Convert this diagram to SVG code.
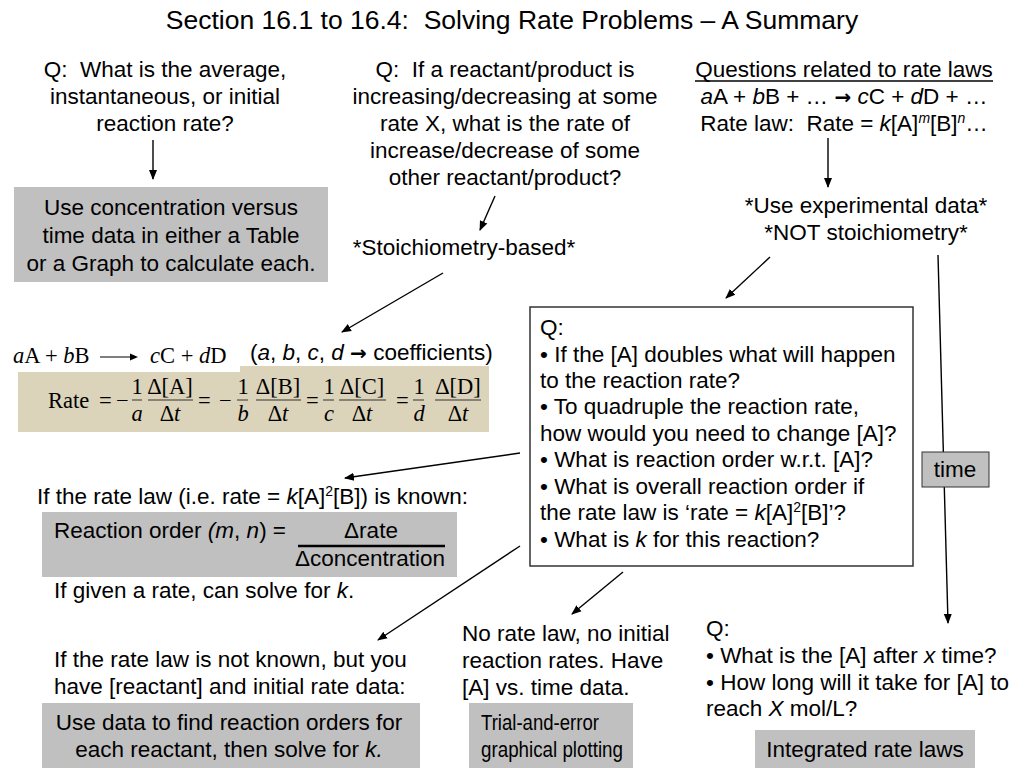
<svg xmlns="http://www.w3.org/2000/svg" width="1024" height="768" viewBox="0 0 1024 768">
<defs>
<marker id="ah" viewBox="0 0 10 10" refX="9" refY="5" markerWidth="10" markerHeight="10" markerUnits="userSpaceOnUse" orient="auto">
<path d="M0,1 L10,5 L0,9 z" fill="#000"/>
</marker>
</defs>
<style>
text{font-family:"Liberation Sans",Arial,sans-serif;font-size:22.5px;fill:#000}
.c{text-anchor:middle}
.t{font-size:26.5px}
.box{fill:#c0c0c0}
.ser{font-family:"Liberation Serif","Times New Roman",serif;font-size:22.5px}
.ar{font-family:"DejaVu Sans",sans-serif;font-size:20px;font-weight:bold}
.conn line{stroke:#000;stroke-width:1.4;marker-end:url(#ah)}
.sup{font-size:14px}
.fb{stroke:#333;stroke-width:1}
</style>
<rect width="1024" height="768" fill="#fff"/>
<text id="title" class="c t" x="512" y="29" xml:space="preserve">Section 16.1 to 16.4:  Solving Rate Problems – A Summary</text>

<g id="q-avg">
<text class="c" x="165" y="77" xml:space="preserve">Q:  What is the average,</text>
<text class="c" x="165" y="104">instantaneous, or initial</text>
<text class="c" x="165" y="131">reaction rate?</text>
</g>
<g id="conc-time">
<rect class="box" x="14" y="187" width="314" height="95"/>
<text class="c" x="171" y="215">Use concentration versus</text>
<text class="c" x="171" y="243">time data in either a Table</text>
<text class="c" x="171" y="271">or a Graph to calculate each.</text>
</g>

<g id="q-stoich">
<text class="c" x="505" y="77" xml:space="preserve">Q:  If a reactant/product is</text>
<text class="c" x="505" y="104">increasing/decreasing at some</text>
<text class="c" x="505" y="131">rate X, what is the rate of</text>
<text class="c" x="505" y="158">increase/decrease of some</text>
<text class="c" x="505" y="185">other reactant/product?</text>
</g>
<g id="stoich">
<text class="c" x="464" y="255">*Stoichiometry-based*</text>
</g>

<g id="rate-laws">
<text class="c" x="844" y="77">Questions related to rate laws</text>
<line x1="695" y1="81" x2="993" y2="81" stroke="#000" stroke-width="1.3"/>
<text class="c" x="844" y="104"><tspan font-style="italic">a</tspan>A + <tspan font-style="italic">b</tspan>B + … <tspan class="ar">→</tspan> <tspan font-style="italic">c</tspan>C + <tspan font-style="italic">d</tspan>D + …</text>
<text class="c" x="844" y="131" xml:space="preserve">Rate law:  Rate = <tspan font-style="italic">k</tspan>[A]<tspan class="sup" font-style="italic" dy="-8">m</tspan><tspan dy="8">[B]</tspan><tspan class="sup" font-style="italic" dy="-8">n</tspan><tspan dy="8">…</tspan></text>
</g>
<g id="experimental">
<text class="c" x="866" y="213">*Use experimental data*</text>
<text class="c" x="866" y="240">*NOT stoichiometry*</text>
</g>

<g id="equation">
<text class="ser" x="13" y="363"><tspan font-style="italic">a</tspan>A + <tspan font-style="italic">b</tspan>B</text>
<line x1="100" y1="357" x2="136" y2="357" stroke="#000" stroke-width="1.2"/>
<path d="M130,353.5 L138,357 L130,360.5 z" fill="#000"/>
<text class="ser" x="150" y="363"><tspan font-style="italic">c</tspan>C + <tspan font-style="italic">d</tspan>D</text>
<rect x="18" y="372" width="222" height="60" fill="#dbd3ba"/>
<rect x="240" y="366" width="249" height="66" fill="#dbd3ba"/>
<text class="ser" x="48" y="408" font-size="23.5">Rate</text>
<text class="ser" x="99" y="408">=</text>
<text class="ser" x="116" y="408">−</text>
<text class="ser c" x="137" y="394">1</text>
<line class="fb" x1="132" y1="400" x2="142" y2="400"/>
<text class="ser c" x="137" y="421" font-style="italic">a</text>
<text class="ser c" x="170" y="394">Δ[A]</text>
<line class="fb" x1="148" y1="400" x2="193" y2="400"/>
<text class="ser c" x="170" y="421">Δ<tspan font-style="italic">t</tspan></text>
<text class="ser" x="198" y="408">=</text>
<text class="ser" x="219" y="408">−</text>
<text class="ser c" x="243" y="394">1</text>
<line class="fb" x1="237" y1="400" x2="248" y2="400"/>
<text class="ser c" x="243" y="421" font-style="italic">b</text>
<text class="ser c" x="278" y="394">Δ[B]</text>
<line class="fb" x1="256" y1="400" x2="301" y2="400"/>
<text class="ser c" x="278" y="421">Δ<tspan font-style="italic">t</tspan></text>
<text class="ser" x="306" y="408">=</text>
<text class="ser c" x="329" y="394">1</text>
<line class="fb" x1="323" y1="400" x2="334" y2="400"/>
<text class="ser c" x="329" y="421" font-style="italic">c</text>
<text class="ser c" x="362" y="394">Δ[C]</text>
<line class="fb" x1="339" y1="400" x2="386" y2="400"/>
<text class="ser c" x="362" y="421">Δ<tspan font-style="italic">t</tspan></text>
<text class="ser" x="396" y="408">=</text>
<text class="ser c" x="419" y="394">1</text>
<line class="fb" x1="413" y1="400" x2="424" y2="400"/>
<text class="ser c" x="419" y="421" font-style="italic">d</text>
<text class="ser c" x="458" y="394">Δ[D]</text>
<line class="fb" x1="435" y1="400" x2="481" y2="400"/>
<text class="ser c" x="458" y="421">Δ<tspan font-style="italic">t</tspan></text>
<text x="250" y="360">(<tspan font-style="italic">a</tspan>, <tspan font-style="italic">b</tspan>, <tspan font-style="italic">c</tspan>, <tspan font-style="italic">d</tspan> <tspan class="ar">→</tspan> coefficients)</text>
</g>

<g id="q-box">
<rect x="530" y="307" width="383" height="259" fill="#fff" stroke="#333" stroke-width="1.5"/>
<text x="540" y="335">Q:</text>
<text x="540" y="362">• If the [A] doubles what will happen</text>
<text x="540" y="388">to the reaction rate?</text>
<text x="540" y="414">• To quadruple the reaction rate,</text>
<text x="540" y="441">how would you need to change [A]?</text>
<text x="540" y="467">• What is reaction order w.r.t. [A]?</text>
<text x="540" y="494">• What is overall reaction order if</text>
<text x="540" y="520">the rate law is ‘rate = <tspan font-style="italic">k</tspan>[A]<tspan class="sup" dy="-8">2</tspan><tspan dy="8">[B]’?</tspan></text>
<text x="540" y="547">• What is <tspan font-style="italic">k</tspan> for this reaction?</text>
</g>

<g id="known">
<text x="37" y="504">If the rate law (i.e. rate = <tspan font-style="italic">k</tspan>[A]<tspan class="sup" dy="-8">2</tspan><tspan dy="8">[B]) is known:</tspan></text>
<rect class="box" x="42" y="512" width="415" height="65"/>
<text x="54" y="538">Reaction order <tspan font-style="italic">(m</tspan>, <tspan font-style="italic">n</tspan>) =</text>
<text class="c" x="371" y="538">Δrate</text>
<line x1="298" y1="546" x2="445" y2="546" stroke="#000" stroke-width="2.5"/>
<text class="c" x="370" y="566">Δconcentration</text>
<text x="54" y="598">If given a rate, can solve for <tspan font-style="italic">k</tspan>.</text>
</g>

<g id="not-known">
<text x="54" y="667">If the rate law is not known, but you</text>
<text x="54" y="694">have [reactant] and initial rate data:</text>
<rect class="box" x="42" y="703" width="378" height="65"/>
<text class="c" x="229" y="730">Use data to find reaction orders for</text>
<text class="c" x="229" y="757">each reactant, then solve for <tspan font-style="italic">k.</tspan></text>
</g>

<g id="no-rate-law">
<text x="462" y="641">No rate law, no initial</text>
<text x="462" y="668">reaction rates. Have</text>
<text x="462" y="695">[A] vs. time data.</text>
<rect class="box" x="469" y="703" width="164" height="65"/>
<text x="481" y="730" textLength="118" lengthAdjust="spacingAndGlyphs">Trial-and-error</text>
<text x="481" y="757" textLength="142" lengthAdjust="spacingAndGlyphs">graphical plotting</text>
</g>

<g id="integrated">
<text x="706" y="636">Q:</text>
<text x="706" y="663">• What is the [A] after <tspan font-style="italic">x</tspan> time?</text>
<text x="706" y="690">• How long will it take for [A] to</text>
<text x="706" y="716">reach <tspan font-style="italic">X</tspan> mol/L?</text>
<rect class="box" x="755" y="730" width="220" height="38"/>
<text class="c" x="865" y="757">Integrated rate laws</text>
</g>

<g id="connectors" class="conn">
<line x1="153" y1="140" x2="153" y2="179"/>
<line x1="495" y1="196" x2="480" y2="230"/>
<line x1="443" y1="273" x2="342" y2="332"/>
<line x1="828" y1="138" x2="828" y2="187"/>
<line x1="770" y1="257" x2="726" y2="298"/>
<line x1="520" y1="453" x2="345" y2="478"/>
<line x1="520" y1="546" x2="378" y2="640"/>
<line x1="623" y1="572" x2="572" y2="614"/>
<line x1="938" y1="255" x2="948" y2="623"/>
</g>

<g id="time">
<rect class="box" x="922" y="452" width="67" height="35" stroke="#333" stroke-width="1"/>
<text class="c" x="955" y="477">time</text>
</g>
</svg>
